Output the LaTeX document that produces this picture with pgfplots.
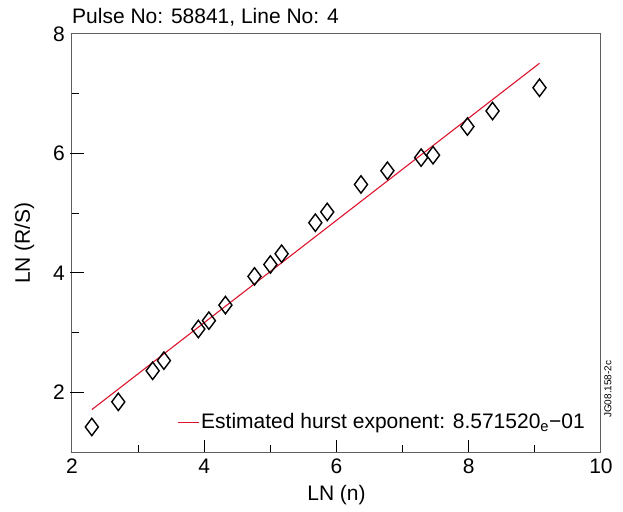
\documentclass[border=0pt]{standalone}
\usepackage{fontspec}
\setmainfont{Liberation Sans}
\usepackage{pgfplots}
\pgfplotsset{compat=1.18}
\definecolor{fitred}{RGB}{222,20,45}
\definecolor{axgray}{RGB}{95,95,95}
\begin{document}
\fontsize{21}{25}\selectfont
\begin{tikzpicture}
\useasboundingbox (-72pt,-59pt) rectangle (551pt,452pt);
\begin{axis}[
  scale only axis, width=529pt, height=418pt,
  xmin=2, xmax=10, ymin=1, ymax=8,
  xtick={2,4,6,8,10}, ytick={2,4,6,8},
  minor tick num=1,
  xtick pos=bottom, ytick pos=left, tick align=inside,
  major tick length=11pt, minor tick length=7pt,
  axis line style={draw=axgray, line width=1pt},
  tick style={draw=black, line width=1pt},
  /pgf/number format/assume math mode=true,
  title={Pulse No: 58841, Line No: 4},
  title style={at={(axis description cs:0,1)}, anchor=base west, yshift=4pt, inner sep=0pt},
  xlabel={LN (n)},
  xlabel style={at={(axis description cs:0.5,-0.103)}, anchor=center},
  ylabel={LN (R/S)},
  ylabel style={at={(axis description cs:-0.090,0.5)}, anchor=center},
  legend style={draw=none, fill=none, at={(axis description cs:1,0)}, anchor=south east, xshift=-14pt, yshift=18pt, inner sep=0pt},
  legend cell align=left,
  legend image code/.code={\draw[#1] (0pt,0pt) -- (21pt,0pt);},
]
\addplot[fitred, line width=1.1pt, forget plot] coordinates {(2.30,1.71) (9.07,7.51)};
\addplot[black, only marks, mark=diamond, mark size=8.7pt, mark options={line width=1.4pt, fill=none}, forget plot] table {
x y
2.30 1.42
2.70 1.84
3.22 2.36
3.39 2.53
3.91 3.06
4.07 3.20
4.32 3.46
4.76 3.94
5.00 4.14
5.17 4.32
5.68 4.84
5.86 5.02
6.37 5.48
6.77 5.71
7.28 5.93
7.46 5.97
7.98 6.45
8.36 6.71
9.07 7.10
};
\addlegendimage{fitred, line width=1.1pt}
\addlegendentry{Estimated hurst exponent: 8.571520\textsubscript{e}−01}
\end{axis}
\draw[black, line width=1pt] (132.25pt,0pt) -- (132.25pt,12pt);
\draw[black, line width=1pt] (264.5pt,0pt) -- (264.5pt,12pt);
\draw[black, line width=1pt] (396.75pt,0pt) -- (396.75pt,12pt);
\draw[black, line width=1pt] (-2pt,59.71pt) -- (12pt,59.71pt);
\draw[black, line width=1pt] (-2pt,179.14pt) -- (12pt,179.14pt);
\draw[black, line width=1pt] (-2pt,298.57pt) -- (12pt,298.57pt);
\node[rotate=90, anchor=west, inner sep=0pt, font=\fontsize{10}{12}\selectfont] at (536pt,34pt) {JG08.158-2c};
\end{tikzpicture}
\end{document}
